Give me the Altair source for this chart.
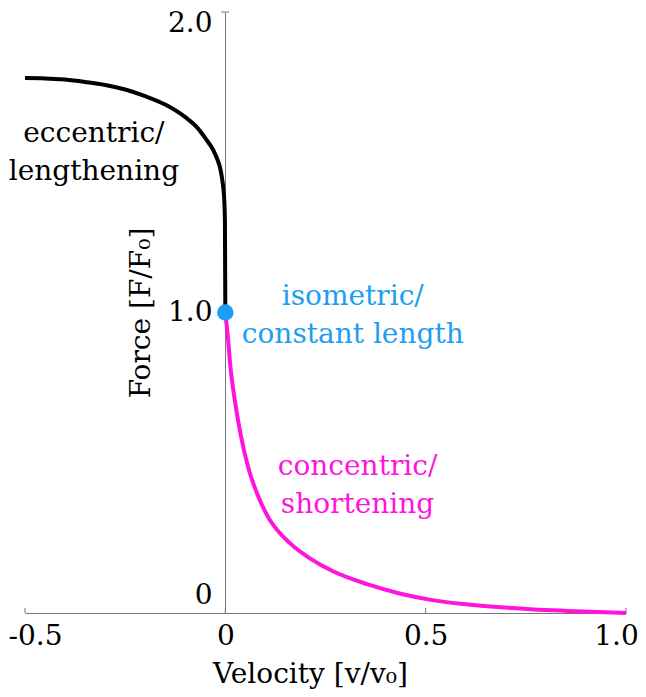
import altair as alt
import pandas as pd

# Eccentric / lengthening branch (black)
ecc_v = [-0.5, -0.45, -0.4, -0.35, -0.3, -0.25, -0.2, -0.15, -0.1, -0.07, -0.05,
         -0.03, -0.02, -0.012, -0.0075, -0.004, -0.0025, -0.001, 0.0]
ecc_F = [1.78, 1.779, 1.775, 1.767, 1.757, 1.742, 1.72, 1.692, 1.65, 1.615, 1.58,
         1.54, 1.51, 1.475, 1.44, 1.4, 1.37, 1.3, 1.0]

# Concentric / shortening branch (magenta)
con_v = [0.0, 0.0058, 0.013, 0.024, 0.038, 0.057, 0.086, 0.11, 0.136, 0.17, 0.211, 0.27,
         0.354, 0.4375, 0.52, 0.6, 0.6875, 0.77, 0.854, 0.93, 1.0]
con_F = [1.0, 0.925, 0.815, 0.705, 0.595, 0.485, 0.376, 0.312, 0.266, 0.222, 0.182, 0.138,
         0.096, 0.064, 0.042, 0.029, 0.019, 0.012, 0.007, 0.003, 0.0]

# Isometric point (blue)
iso_v = [0.0]
iso_F = [1.0]

# Annotations
ann_text = ["eccentric/\nlengthening", "isometric/\nconstant length", "concentric/\nshortening"]
ann_v = [-0.328, 0.318, 0.33]
ann_F = [1.567, 1.025, 0.459]
ann_color = ["#000000", "#1E9EF0", "#FF14DC"]

x_ticks = [-0.5, 0.0, 0.5, 1.0]
y_ticks = [0.0, 1.0, 2.0]
y_top_tick = [2.0]

BLACK = "#000000"
BLUE = "#1E9EF0"
MAGENTA = "#FF14DC"
GRAY = "#777777"
FONT = "DejaVu Serif"
FS = 28

W, H = 601, 601

xscale = alt.Scale(domain=[-0.5, 1.0], nice=False, zero=False)
yscale = alt.Scale(domain=[0.0, 2.0], nice=False, zero=False)

fmt = "datum.value == 0 ? '0' : (datum.value < 0 ? '-' + format(-datum.value, '.1f') : format(datum.value, '.1f'))"

xaxis = alt.Axis(
    values=x_ticks, labelExpr=fmt, ticks=False, tickSize=0, grid=False,
    domainColor=GRAY, domainWidth=1,
    labelFont=FONT, labelFontSize=FS, labelColor=BLACK, labelPadding=9,
    labelFlush=False, labelOverlap=False,
    labelOffset={"condition": [
        {"test": "datum.value === -0.5", "value": 10},
        {"test": "datum.value === 1", "value": -10},
    ], "value": 0},
    title="Velocity [v/v\u2080]", titleFont=FONT, titleFontSize=FS,
    titleFontWeight="normal", titleColor=BLACK, titlePadding=10, titleX=285,
)
yaxis = alt.Axis(
    orient="left", offset=-200, values=y_ticks, labelExpr=fmt, ticks=False, tickSize=0,
    grid=False, domainColor=GRAY, domainWidth=1,
    labelFont=FONT, labelFontSize=FS, labelColor=BLACK, labelPadding=13,
    labelFlush=False, labelOverlap=False,
    labelOffset={"condition": [
        {"test": "datum.value === 0", "value": -18},
        {"test": "datum.value === 2", "value": 11},
    ], "value": 0},
    title="Force [F/F\u2080]", titleFont=FONT, titleFontSize=FS,
    titleFontWeight="normal", titleColor=BLACK, titlePadding=12,
)

X = alt.X("v:Q", scale=xscale, axis=xaxis)
Y = alt.Y("F:Q", scale=yscale, axis=yaxis)

ecc_df = pd.DataFrame({"v": ecc_v, "F": ecc_F})
con_df = pd.DataFrame({"v": con_v, "F": con_F})
iso_df = pd.DataFrame({"v": iso_v, "F": iso_F})
ann_df = pd.DataFrame({"v": ann_v, "F": ann_F, "text": ann_text, "c": ann_color})
xt_df = pd.DataFrame({"v": x_ticks})
yt_df = pd.DataFrame({"F": y_top_tick})

ecc = alt.Chart(ecc_df).mark_line(color=BLACK, strokeWidth=4, interpolate="monotone").encode(x=X, y=Y)
con = alt.Chart(con_df).mark_line(color=MAGENTA, strokeWidth=4, interpolate="monotone").encode(x=X, y=Y)
iso = alt.Chart(iso_df).mark_circle(color=BLUE, size=270, opacity=1).encode(x=X, y=Y)
ann = alt.Chart(ann_df).mark_text(
    font=FONT, fontSize=FS, align="center", baseline="alphabetic", lineBreak="\n", lineHeight=38
).encode(x=X, y=Y, text="text:N", color=alt.Color("c:N", scale=None))
xt = alt.Chart(xt_df).mark_rule(color=GRAY, strokeWidth=1).encode(
    x=X, y=alt.value(H), y2=alt.value(H - 5)
)
yt = alt.Chart(yt_df).mark_rule(color=GRAY, strokeWidth=1).encode(
    y=Y, x=alt.value(196), x2=alt.value(204)
)

chart = alt.layer(xt, yt, ecc, con, iso, ann).properties(
    width=W, height=H,
    autosize=alt.AutoSizeParams(type="none"),
    padding={"left": 17, "top": 4, "right": 12, "bottom": 76},
).configure_view(stroke=None)

chart.save("out.html", embed_options={"renderer": "svg", "actions": False})
